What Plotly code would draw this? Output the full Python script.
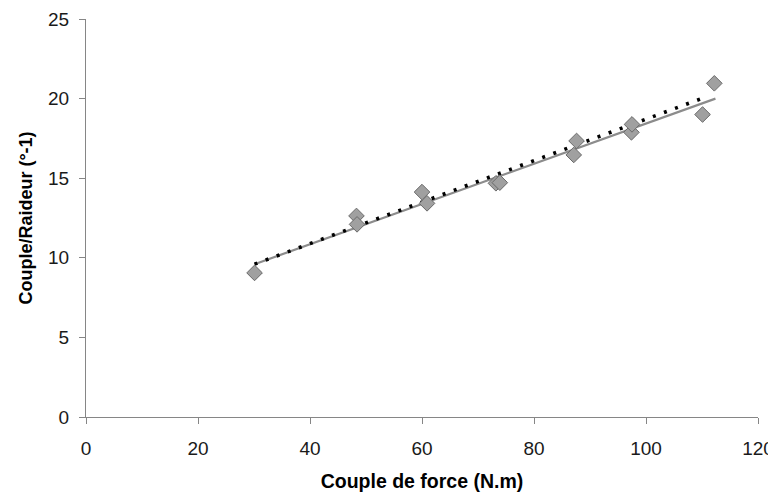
import plotly.graph_objects as go

# Measured data (diamonds)
torque = [30.1, 48.3, 48.4, 60.0, 60.9, 73.2, 73.9, 87.1, 87.6, 97.4, 97.5, 110.1, 112.2]
ratio = [9.05, 12.63, 12.1, 14.13, 13.42, 14.68, 14.72, 16.46, 17.34, 17.88, 18.38, 19.0, 20.96]

# Linear trend (gray solid)
trend_x = [30.1, 112.4]
trend_y = [9.6, 20.0]

# Model line (black dotted)
model_x = [30.1, 110.3]
model_y = [9.6, 20.05]

fig = go.Figure()
fig.add_trace(go.Scatter(x=trend_x, y=trend_y, mode="lines",
                         line=dict(color="#8c8c8c", width=2.2), showlegend=False))
fig.add_trace(go.Scatter(x=model_x, y=model_y, mode="lines",
                         line=dict(color="#000000", width=3.6, dash="3px,8.8px"), showlegend=False))
fig.add_trace(go.Scatter(x=torque, y=ratio, mode="markers",
                         marker=dict(symbol="diamond", size=12, color="#a0a0a0",
                                     line=dict(color="#6a6a6a", width=1)),
                         showlegend=False))

axis_common = dict(showgrid=False, zeroline=False, showline=True, linecolor="#868686",
                   linewidth=1, ticks="outside", ticklen=6, tickcolor="#868686",
                   automargin=False, ticklabeloverflow="allow",
                   tickfont=dict(family="Liberation Sans, Arial", size=19, color="#1a1a1a"))

fig.update_layout(
    width=768, height=486,
    margin=dict(l=78, r=18, t=11, b=77),
    paper_bgcolor="white", plot_bgcolor="white",
    xaxis=dict(range=[0, 120], dtick=20, ticklabelstandoff=8,
               title=dict(text="<b>Couple de force (N.m)</b>", standoff=16,
                          font=dict(family="Liberation Sans, Arial", size=19.5, color="#000000")),
               **axis_common),
    yaxis=dict(range=[0, 25], dtick=5, ticklabelstandoff=6,
               title=dict(text="<b>Couple/Raideur (°-1)</b>", standoff=10,
                          font=dict(family="Liberation Sans, Arial", size=18, color="#000000")),
               **axis_common),
)

fig.write_html("out.html")
